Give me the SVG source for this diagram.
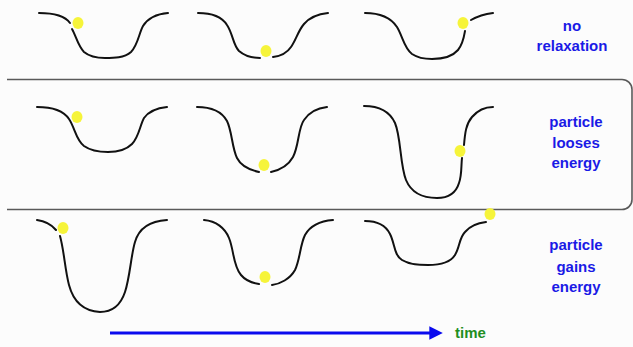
<svg xmlns="http://www.w3.org/2000/svg" width="633" height="347" viewBox="0 0 633 347">
<style>
.well{fill:none;stroke:#111;stroke-width:2;stroke-linecap:round;stroke-linejoin:round}
.ball{fill:#f6f43a;stroke:none}
.lbl{font-family:"Comic Sans MS","Liberation Sans",sans-serif;font-weight:bold;font-size:15px;fill:#1a1ae6;text-anchor:middle}
.time{font-family:"Comic Sans MS","Liberation Sans",sans-serif;font-weight:bold;font-size:15px;fill:#1f8f1f}
.box{fill:none;stroke:#5a5a5a;stroke-width:1.6}
</style>
<defs>
<marker id="ah" viewBox="0 0 10 10" refX="2" refY="5" markerWidth="4.5" markerHeight="4.5" orient="auto" markerUnits="strokeWidth">
<path d="M0,0 L10,5 L0,10 z" fill="#0a0aee"/>
</marker>
</defs>
<rect width="633" height="347" fill="#fcfcfc"/>
<g id="box">
<path class="box" d="M7,79.5 H622 A10,10 0 0 1 632,89.5 V199.5 A10,10 0 0 1 622,209.5 H7"/>
</g>
<g id="r1c1">
<path class="well" d="M39,13 C55,13 65,16 70,23 M72,29 C76,36 78,46 84,52 C90,57 98,58 105,58 C114,58 124,58 131,52 C138,45 139,33 143,26 C148,18 156,14 168,13"/>
<ellipse class="ball" cx="78" cy="23" rx="5.5" ry="6"/>
</g>
<g id="r1c2">
<path class="well" d="M198,13 C213,13 222,17 227,25 C233,34 233,45 239,51 C246,57 253,58 260,58 M273,57 C281,56 287,53 291,47 C296,40 298,31 304,24 C310,17 318,14 328,13"/>
<ellipse class="ball" cx="266" cy="51" rx="5.5" ry="6"/>
</g>
<g id="r1c3">
<path class="well" d="M365,13 C381,13 391,18 397,27 C403,37 404,48 412,54 C418,58 425,59 432,59 C442,59 452,57 458,50 C463,44 464,37 465,31 M471,20 C478,16 485,14 493,13"/>
<ellipse class="ball" cx="463" cy="23" rx="5.5" ry="6"/>
</g>
<g id="r2c1">
<path class="well" d="M37,107 C52,107 63,110 69,119 C75,128 76,140 84,146 C91,151 99,152 108,152 C117,152 126,150 132,144 C139,137 140,125 144,118 C149,111 157,108 167,107"/>
<ellipse class="ball" cx="77" cy="117" rx="5.5" ry="6" stroke="#fcfcfc" stroke-width="1.5"/>
</g>
<g id="r2c2">
<path class="well" d="M197,107 C212,107 222,112 227,121 C232,131 232,148 237,158 C241,166 250,170 259,172 M271,172 C280,170 288,166 293,157 C299,146 298,128 304,120 C310,111 318,108 327,107"/>
<ellipse class="ball" cx="264" cy="165" rx="5.5" ry="6"/>
</g>
<g id="r2c3">
<path class="well" d="M364,106 C380,106 390,112 395,123 C401,137 400,165 406,180 C411,192 421,198 437,198 C448,198 456,193 459,183 C462,175 461,166 462,158 M464,145 C465,133 466,124 472,117 C478,110 485,107 493,107"/>
<ellipse class="ball" cx="460" cy="151" rx="5.5" ry="6"/>
</g>
<g id="r3c1">
<path class="well" d="M37,220 C45,221 51,224 56,230 M60,236 C64,250 65,270 69,285 C73,300 82,311 100,312 C113,312 121,304 125,292 C130,277 131,255 135,242 C139,228 150,221 167,220"/>
<ellipse class="ball" cx="63" cy="228" rx="5.5" ry="6"/>
</g>
<g id="r3c2">
<path class="well" d="M204,220 C216,221 225,228 229,238 C234,250 233,266 241,275 C246,281 252,283 259,284 M272,285 C280,284 290,279 295,270 C300,260 300,245 305,235 C310,226 320,221 333,220"/>
<ellipse class="ball" cx="265" cy="277" rx="5.5" ry="6"/>
</g>
<g id="r3c3">
<path class="well" d="M365,221 C377,221 386,226 390,234 C395,244 394,255 402,260 C410,265 420,265 428,265 C440,265 450,263 455,255 C460,247 459,238 465,232 C470,226 477,223 486,222"/>
<ellipse class="ball" cx="490" cy="214" rx="5.5" ry="6"/>
</g>
<g id="label-no-relaxation">
<text class="lbl" x="572" y="31">no</text>
<text class="lbl" x="572" y="51">relaxation</text>
</g>
<g id="label-looses">
<text class="lbl" x="576" y="127">particle</text>
<text class="lbl" x="576" y="148">looses</text>
<text class="lbl" x="576" y="168">energy</text>
</g>
<g id="label-gains">
<text class="lbl" x="576" y="250">particle</text>
<text class="lbl" x="576" y="272">gains</text>
<text class="lbl" x="576" y="292">energy</text>
</g>
<g id="connectors">
<line x1="110" y1="333" x2="432" y2="333" stroke="#0a0aee" stroke-width="3" marker-end="url(#ah)"/>
</g>
<g id="label-time">
<text class="time" x="455" y="338">time</text>
</g>
</svg>
